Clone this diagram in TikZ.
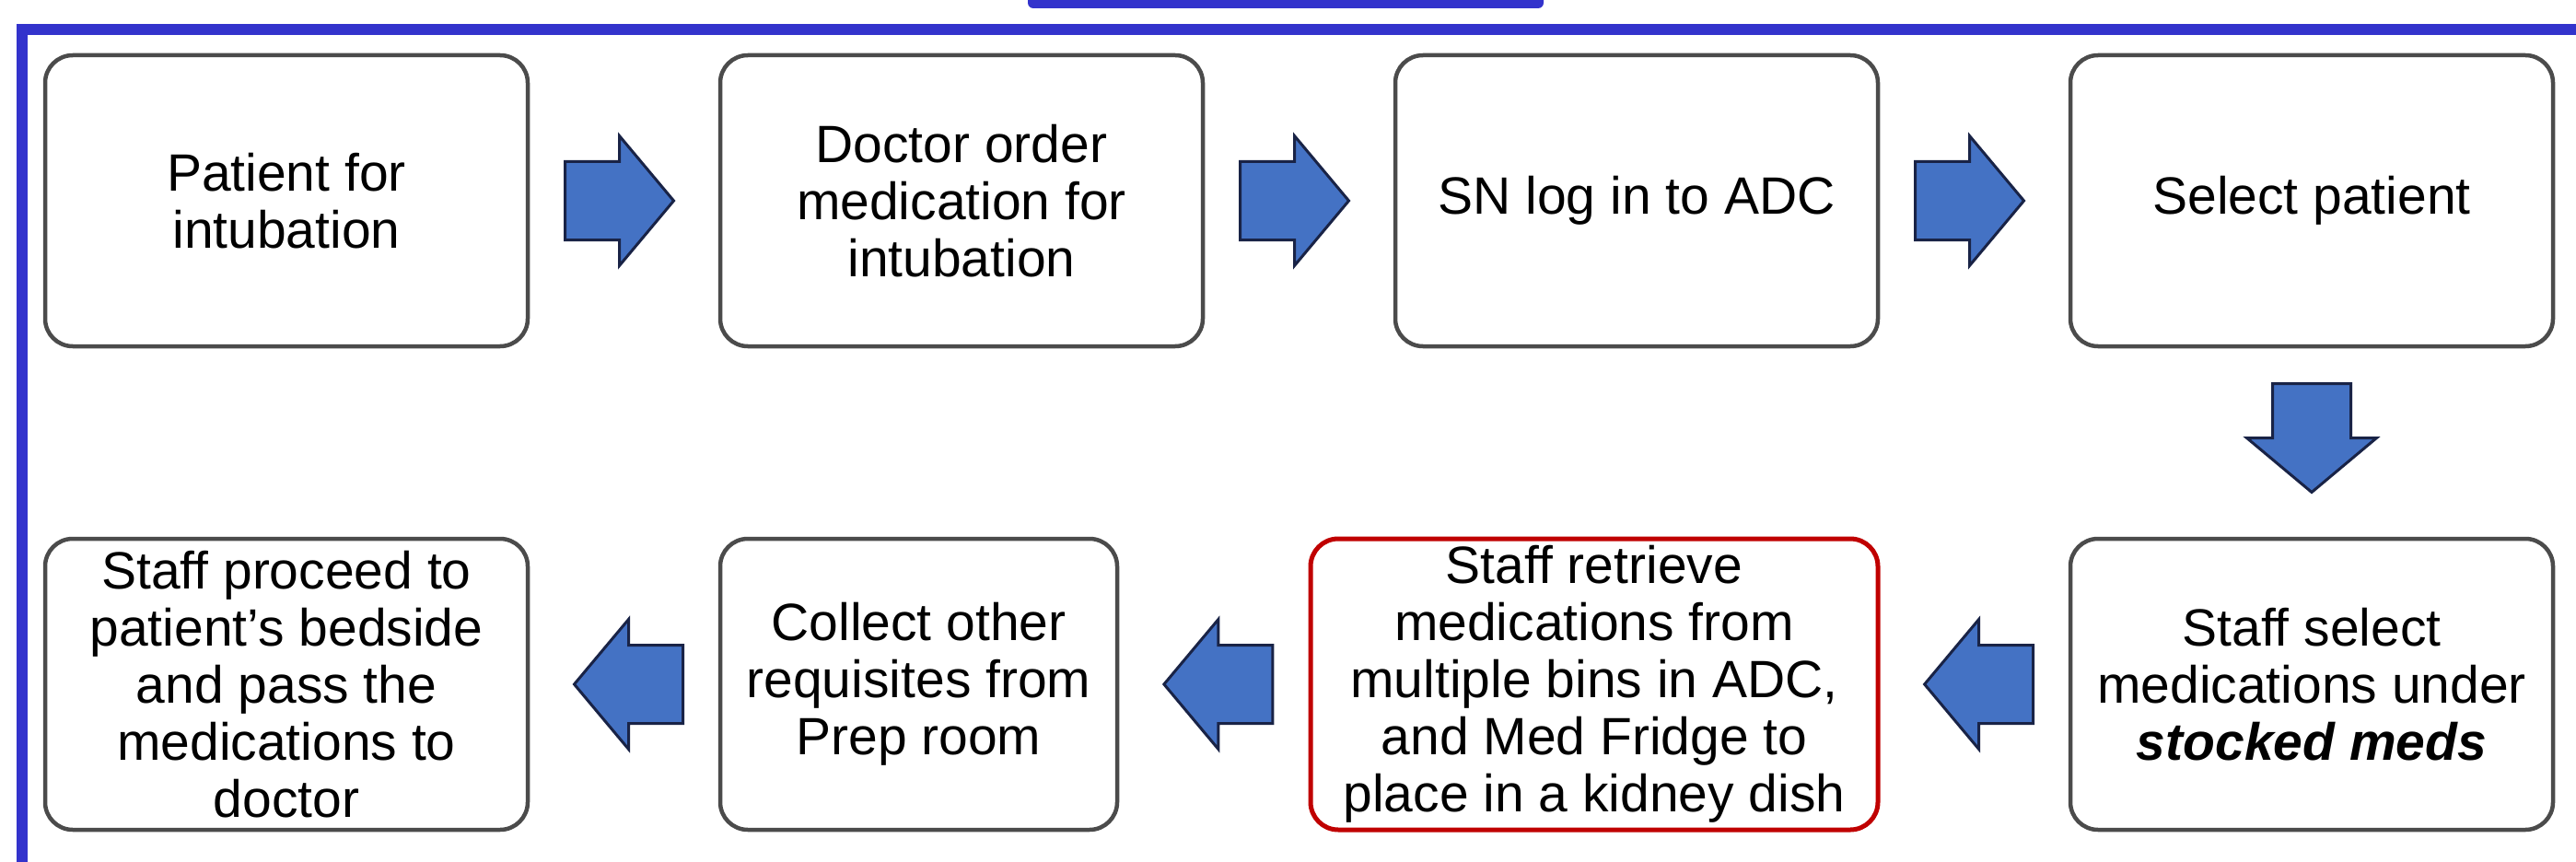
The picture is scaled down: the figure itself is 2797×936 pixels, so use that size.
\documentclass[tikz,border=0pt]{standalone}
\usepackage{fontspec}
\setmainfont{Liberation Sans}
\usetikzlibrary{calc}
\definecolor{frameblue}{RGB}{51,51,204}
\definecolor{arrowblue}{RGB}{68,114,196}
\definecolor{arrowedge}{RGB}{25,35,70}
\definecolor{boxedge}{RGB}{75,75,75}
\definecolor{rededge}{RGB}{192,0,0}
\begin{document}
\begin{tikzpicture}[x=1pt,y=-1pt,
  stepbox/.style={draw=boxedge, line width=4.5pt, rounded corners=30pt, fill=white,
    minimum height=316pt, inner sep=0pt, align=center,
    font=\fontsize{57pt}{62pt}\selectfont},
  hotbox/.style={stepbox, draw=rededge, line width=5pt},
  blockarr/.style={fill=arrowblue, draw=arrowedge, line width=3pt, line join=miter},
  rarrow/.pic={\draw[blockarr] (-64,-42.5) -- (-5,-42.5) -- (-5,-70.5) -- (54,0)
      -- (-5,70.5) -- (-5,42.5) -- (-64,42.5) -- cycle;}
]
\useasboundingbox (0,0) rectangle (2797,936);
\fill[white] (0,0) rectangle (2797,936);

% frame and tab
\fill[frameblue, rounded corners=6pt] (1116,-20) rectangle (1676,9);
\draw[frameblue, line width=12pt, line join=miter] (24,960) -- (24,32) -- (2820,32);

% row 1
\node[stepbox, minimum width=524pt] (b1) at (311,218) {Patient for\\intubation};
\node[stepbox, minimum width=524pt] (b2) at (1044,218) {Doctor order\\medication for\\intubation};
\node[stepbox, minimum width=524pt] (b3) at (1777,218) {SN log in to ADC};
\node[stepbox, minimum width=524pt] (b4) at (2510,218) {Select patient};

% row 2
\node[stepbox, minimum width=524pt] (b8) at (2510,743) {Staff select\\medications under\\\textbf{\textit{stocked meds}}};
\node[hotbox, minimum width=616pt] (b7) at (1731,743) {Staff retrieve\\medications from\\multiple bins in ADC,\\and Med Fridge to\\place in a kidney dish};
\node[stepbox, minimum width=431pt] (b6) at (997.5,743) {Collect other\\requisites from\\Prep room};
\node[stepbox, minimum width=524pt] (b5) at (311,743) {Staff proceed to\\patient’s bedside\\and pass the\\medications to\\doctor};

% arrows
\coordinate (a12) at ($(b1.east)!0.5!(b2.west)$);
\coordinate (a23) at ($(b2.east)!0.5!(b3.west)$);
\coordinate (a34) at ($(b3.east)!0.5!(b4.west)$);
\coordinate (a48) at ($(b4.south)!0.5!(b8.north)$);
\coordinate (a87) at ($(b8.west)!0.5!(b7.east)$);
\coordinate (a76) at ($(b7.west)!0.5!(b6.east)$);
\coordinate (a65) at ($(b6.west)!0.5!(b5.east)$);
\pic at (a12) {rarrow};
\pic at (a23) {rarrow};
\pic at (a34) {rarrow};
\pic[rotate=-90] at (a48) {rarrow};
\pic[rotate=180] at (a87) {rarrow};
\pic[rotate=180] at (a76) {rarrow};
\pic[rotate=180] at (a65) {rarrow};
\end{tikzpicture}
\end{document}
